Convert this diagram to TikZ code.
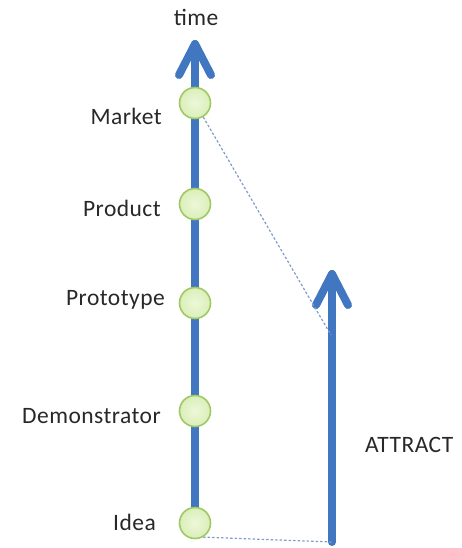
\documentclass[tikz,border=0pt]{standalone}
\usepackage{fontspec}
\setmainfont{Carlito}[LetterSpace=2]
\usepackage{tikz}
\usetikzlibrary{calc}
\usetikzlibrary{positioning}

\definecolor{axisblue}{RGB}{65,118,193}
\definecolor{stagefill}{RGB}{226,244,196}
\definecolor{stagerim}{RGB}{160,200,100}
\definecolor{linkgrey}{RGB}{130,155,204}
\definecolor{inkgrey}{RGB}{40,40,40}

\tikzset{
	axis/.style={draw=axisblue, line width=8pt, line cap=round, line join=round},
	stage/.style={circle, minimum size=31pt, inner sep=0pt, draw=stagerim, line width=1.6pt,
		inner color=white!35!stagefill, outer color=stagefill!88!stagerim},
	tag/.style={inner sep=0pt, text=inkgrey, font=\fontsize{23.5}{27}\selectfont},
	link/.style={draw=linkgrey, line width=1.2pt, dash pattern=on 2.5pt off 2pt}
}

\begin{document}
\begin{tikzpicture}[x=1pt, y=-1pt]
		\useasboundingbox (0, 0) rectangle (461, 548);
		% time axis
		\coordinate (timetip) at (195, 44);
		\coordinate (attrbase) at (332, 542);
		\coordinate (attrtip) at (332, 274);
		\coordinate (attrmid) at (331, 335);
		\draw[axis] (195, 523) -- (timetip);
		\draw[axis] ($(timetip) + (-16, 31)$) -- (timetip) -- ($(timetip) + (16, 31)$);
		\node[tag] (time) at (196, 17) {time};
		% stages
		\node[stage] (market) at (195, 103) {};
		\node[stage] (product) at (195, 204) {};
		\node[stage] (prototype) at (195, 303) {};
		\node[stage] (demonstrator) at (195, 411) {};
		\node[stage] (idea) at (195, 523) {};
		\node[tag, anchor=east] (marketlbl) at (162, 116) {Market};
		\node[tag, anchor=east] (productlbl) at (161, 208) {Product};
		\node[tag, anchor=east] (prototypelbl) at (165, 300) {Prototype};
		\node[tag, anchor=east] (demonstratorlbl) at (161, 416) {Demonstrator};
		\node[tag, anchor=east] (idealbl) at (156, 522) {Idea};
		% attract
		\draw[axis] (attrbase) -- (attrtip);
		\draw[axis] ($(attrtip) + (-16, 31)$) -- (attrtip) -- ($(attrtip) + (16, 31)$);
		\node[tag, anchor=west] (attract) at (365, 445) {ATTRACT};
		\draw[link] (market) -- (attrmid);
		\draw[link] (idea.-60) -- (attrbase);
	\end{tikzpicture}
\end{document}
